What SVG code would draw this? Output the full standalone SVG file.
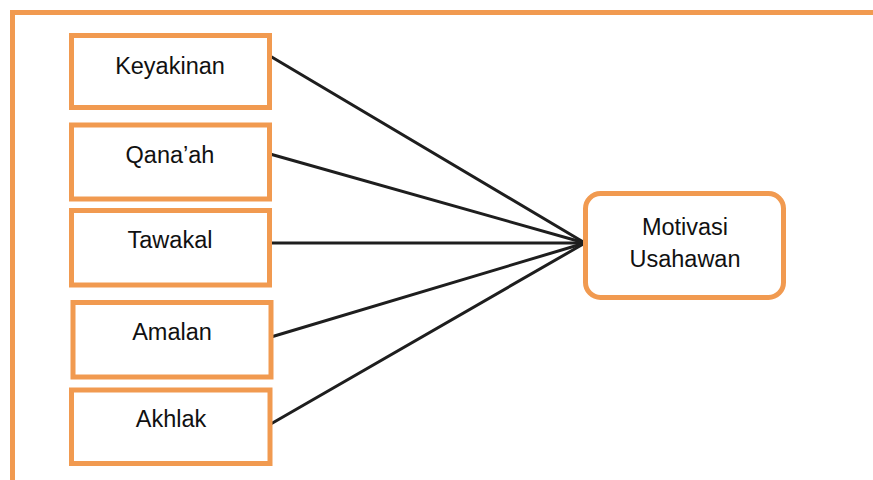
<svg xmlns="http://www.w3.org/2000/svg" width="873" height="480" viewBox="0 0 873 480">
<style>
.box{fill:#fff;stroke:#F19A50;stroke-width:5}
.lbl{font-family:"Liberation Sans",Arial,sans-serif;font-size:23.5px;fill:#111;text-anchor:middle}
.conn line{stroke:#1e1e1e;stroke-width:3;stroke-linecap:round}
</style>
<rect width="873" height="480" fill="#fff"/>
<g id="frame">
<path d="M12.5,480 V12.5 H873" fill="none" stroke="#F19A50" stroke-width="5"/>
</g>
<g class="conn" id="connectors">
<line x1="270" y1="56" x2="585" y2="243"/>
<line x1="270" y1="154" x2="585" y2="243"/>
<line x1="271" y1="243" x2="585" y2="243"/>
<line x1="271" y1="337" x2="585" y2="243"/>
<line x1="269" y1="425" x2="585" y2="243"/>
</g>
<g id="keyakinan"><rect class="box" x="71.5" y="35.5" width="198" height="72"/><text class="lbl" x="170" y="74">Keyakinan</text></g>
<g id="qanaah"><rect class="box" x="71.5" y="125" width="198" height="74"/><text class="lbl" x="170" y="163">Qana’ah</text></g>
<g id="tawakal"><rect class="box" x="71.5" y="210.5" width="198" height="74.5"/><text class="lbl" x="170" y="248">Tawakal</text></g>
<g id="amalan"><rect class="box" x="73" y="302.5" width="198" height="74.5"/><text class="lbl" x="172" y="340">Amalan</text></g>
<g id="akhlak"><rect class="box" x="71.5" y="390" width="198.5" height="73.5"/><text class="lbl" x="171" y="427">Akhlak</text></g>
<g id="motivasi"><rect class="box" x="585.5" y="193.5" width="198" height="104" rx="15"/><text class="lbl" x="685" y="235">Motivasi</text><text class="lbl" x="685" y="267">Usahawan</text></g>
</svg>
